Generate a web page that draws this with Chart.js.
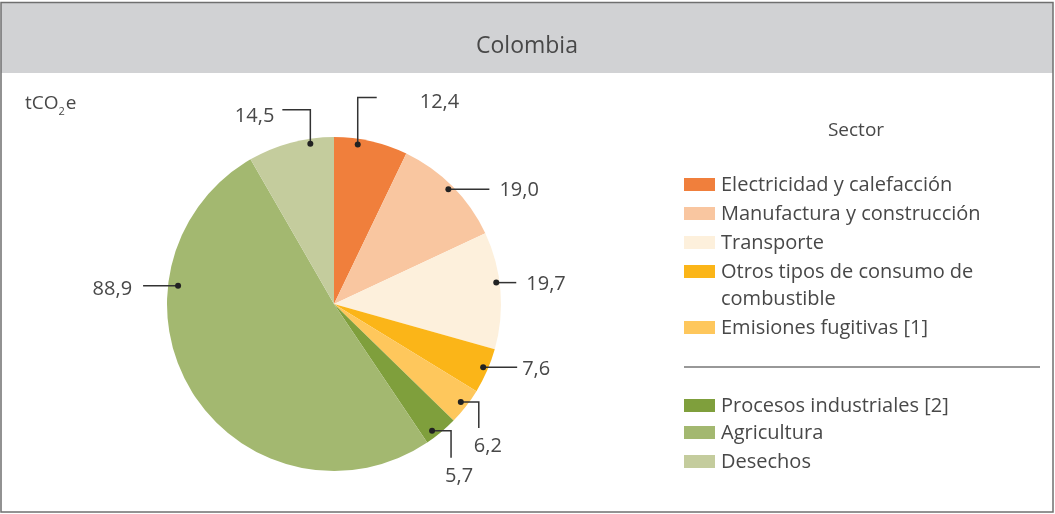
<!DOCTYPE html>
<html>
<head>
<meta charset="utf-8">
<script src="https://cdn.jsdelivr.net/npm/chart.js@4"></script>
<style>
  html, body { margin: 0; padding: 0; background: #fff; }
  #wrap { width: 1055px; height: 514px; position: relative; }
</style>
</head>
<body>
<div id="wrap"><canvas id="pieChart" width="1055" height="514"></canvas></div>
<script>
const titleText = 'Colombia';
const unitText = 'tCO';
const legendTitle = 'Sector';

const sectors = [
    'Electricidad y calefacción',
    'Manufactura y construcción',
    'Transporte',
    'Otros tipos de consumo de combustible',
    'Emisiones fugitivas [1]',
    'Procesos industriales [2]',
    'Agricultura',
    'Desechos'
];
const emissions = [12.4, 19.0, 19.7, 7.6, 6.2, 5.7, 88.9, 14.5];
const valueLabels = ['12,4', '19,0', '19,7', '7,6', '6,2', '5,7', '88,9', '14,5'];
const sectorColors = ['#f07f3c', '#f9c6a0', '#fdf0dc', '#fbb518', '#fec75c', '#7f9f3c', '#a3b870', '#c4cc9d'];

const FONT = '"Open Sans", sans-serif';
const TEXT = '#484848';

// where the dot sits inside each slice (fraction of the slice, share of radius) and how the leader runs
const leaders = [
    { t: 0.33, r: 0.965, path: [[0, -47], [19, -47]], label: [62, -42], align: 'left' },
    { t: 0.49, r: 0.97, path: [[41, 0]], label: [51, 1], align: 'left' },
    { t: 0.43, r: 0.98, path: [[20, 0]], label: [30, 2], align: 'left' },
    { t: 0.46, r: 0.97, path: [[34, 0]], label: [39, 2], align: 'left' },
    { t: 0.49, r: 0.96, path: [[18, 0], [18, 26]], label: [27, 44], align: 'center' },
    { t: 0.68, r: 0.96, path: [[19, 0], [19, 27]], label: [27, 45], align: 'center' },
    { t: 0.71, r: 0.94, path: [[-35, 0]], label: [-46, 4], align: 'right' },
    { t: 0.72, r: 0.97, path: [[0, -34], [-28, -34]], label: [-36, -27], align: 'right' }
];

const framePlugin = {
    id: 'frame',
    beforeDraw(chart) {
        const ctx = chart.ctx;
        ctx.save();
        ctx.fillStyle = '#fff';
        ctx.fillRect(0, 0, 1055, 514);
        ctx.fillStyle = '#d1d2d4';
        ctx.fillRect(1, 3, 1052, 70);
        ctx.strokeStyle = '#6f6f6f';
        ctx.lineWidth = 1.5;
        ctx.strokeRect(1, 2.5, 1052, 509.5);
        ctx.fillStyle = TEXT;
        ctx.font = '23px ' + FONT;
        ctx.textAlign = 'center';
        ctx.textBaseline = 'middle';
        ctx.fillText(titleText, 527, 46);

        // unit
        ctx.textAlign = 'left';
        ctx.font = '19px ' + FONT;
        ctx.fillText(unitText, 25, 104);
        let w = ctx.measureText(unitText).width;
        ctx.font = '11px ' + FONT;
        ctx.fillText('2', 25 + w, 112);
        let w2 = ctx.measureText('2').width;
        ctx.font = '19px ' + FONT;
        ctx.fillText('e', 25 + w + w2 + 1, 104);
        ctx.restore();
    },
    afterDraw(chart) {
        const ctx = chart.ctx;
        const arcs = chart.getDatasetMeta(0).data;
        ctx.save();
        ctx.font = '20px ' + FONT;
        ctx.textBaseline = 'middle';
        arcs.forEach((arc, i) => {
            const ld = leaders[i];
            const a = arc.startAngle + (arc.endAngle - arc.startAngle) * ld.t;
            const r = arc.outerRadius * ld.r;
            const px = arc.x + r * Math.cos(a);
            const py = arc.y + r * Math.sin(a);
            ctx.strokeStyle = '#333';
            ctx.lineWidth = 1.5;
            ctx.beginPath();
            ctx.moveTo(px, py);
            ld.path.forEach(p => ctx.lineTo(px + p[0], py + p[1]));
            ctx.stroke();
            ctx.fillStyle = '#222';
            ctx.beginPath();
            ctx.arc(px, py, 3, 0, Math.PI * 2);
            ctx.fill();
            ctx.fillStyle = TEXT;
            ctx.textAlign = ld.align;
            ctx.fillText(valueLabels[i], px + ld.label[0], py + ld.label[1]);
        });

        // legend
        ctx.font = '19px ' + FONT;
        ctx.textAlign = 'center';
        ctx.fillText(legendTitle, 856, 131);
        ctx.textAlign = 'left';
        ctx.font = '20px ' + FONT;
        const rows = [[185], [214], [243], [272, 299], [328], [406], [433], [462]];
        const lines = [null, null, null, ['Otros tipos de consumo de', 'combustible'], null, null, null, null];
        sectors.forEach((s, i) => {
            const y = rows[i][0];
            ctx.fillStyle = sectorColors[i];
            ctx.fillRect(684, y - 7, 31, 13);
            ctx.fillStyle = TEXT;
            const parts = lines[i] || [s];
            parts.forEach((txt, k) => ctx.fillText(txt, 721, rows[i][k]));
        });
        ctx.strokeStyle = '#333';
        ctx.lineWidth = 1.2;
        ctx.beginPath();
        ctx.moveTo(684, 367);
        ctx.lineTo(1040, 367);
        ctx.stroke();
        ctx.restore();
    }
};

new Chart(document.getElementById('pieChart').getContext('2d'), {
    type: 'pie',
    data: {
        labels: sectors,
        datasets: [{
            data: emissions,
            backgroundColor: sectorColors,
            borderWidth: 0
        }]
    },
    options: {
        responsive: false,
        animation: false,
        layout: {
            padding: { left: 167, right: 554, top: 137, bottom: 43 }
        },
        plugins: {
            legend: { display: false },
            title: { display: false },
            tooltip: { enabled: false }
        }
    },
    plugins: [framePlugin]
});
</script>
</body>
</html>
